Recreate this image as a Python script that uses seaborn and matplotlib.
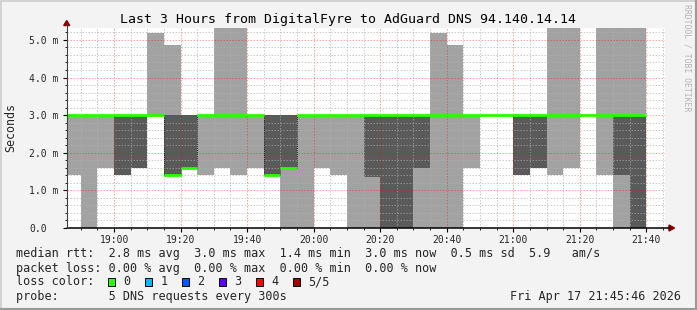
import numpy as np
import pandas as pd
import matplotlib
matplotlib.use("Agg")
import matplotlib.pyplot as plt
import seaborn as sns
from matplotlib.ticker import FuncFormatter, MultipleLocator
from matplotlib.patches import Rectangle, Polygon
from matplotlib.lines import Line2D

# ---------------- data ----------------
title = "Last 3 Hours from DigitalFyre to AdGuard DNS 94.140.14.14"
first_start_min = 18 * 60 + 45          # first 5-minute interval starts 18:45
step_min = 5
view_start_min = 18 * 60 + 45 + 46 / 60  # 18:45:46
view_end_min = 21 * 60 + 45 + 46 / 60    # 21:45:46

# five sorted ping RTTs (ms) per 5-minute interval
p1 = [1.4, 0.0, 1.6, 1.4, 1.6, 3.0, 1.4, 1.6, 1.4, 1.6, 1.4, 1.6, 1.4, 0.0, 0.0, 1.6, 1.4, 0.0,
      0.0, 0.0, 0.0, 0.0, 0.0, 0.0, 1.6, 3.0, 3.0, 1.4, 1.6, 1.4, 1.6, 3.0, 1.4, 0.0, 0.0]
p2 = [3.0, 3.0, 3.0, 1.4, 1.6, 3.0, 1.4, 1.6, 3.0, 3.0, 3.0, 3.0, 1.4, 1.6, 3.0, 3.0, 3.0, 3.0,
      1.36, 0.0, 0.0, 1.6, 3.0, 3.0, 3.0, 3.0, 3.0, 1.4, 1.6, 3.0, 3.0, 3.0, 3.0, 1.4, 0.0]
p3 = [3.0, 3.0, 3.0, 3.0, 3.0, 3.0, 1.4, 1.6, 3.0, 3.0, 3.0, 3.0, 1.4, 1.6, 3.0, 3.0, 3.0, 3.0,
      3.0, 3.0, 3.0, 3.0, 3.0, 3.0, 3.0, 3.0, 3.0, 3.0, 3.0, 3.0, 3.0, 3.0, 3.0, 3.0, 3.0]
p4 = [3.0] * 35
p5 = [3.0, 3.0, 3.0, 3.0, 3.0, 5.18, 4.86, 3.0, 3.0, 5.35, 5.35, 3.0, 3.0, 3.0, 3.0, 3.0, 3.0, 3.0,
      3.0, 3.0, 3.0, 3.0, 5.18, 4.86, 3.0, 3.0, 3.0, 3.0, 3.0, 5.35, 5.35, 3.0, 5.35, 5.35, 5.35]

x_major_ticks = [19 * 60 + 20 * i for i in range(9)]   # 19:00 ... 21:40
y_major_ticks = [0, 1, 2, 3, 4, 5]
y_max = 5.33

rtt_stats = ["2.8 ms avg", "3.0 ms max", "1.4 ms min", "3.0 ms now", "0.5 ms sd", "5.9   am/s"]
loss_stats = ["0.00 % avg", "0.00 % max", "0.00 % min", "0.00 % now"]
loss_labels = ["0", "1", "2", "3", "4", "5/5"]
loss_colors = ["#26ff00", "#00b8ff", "#0059ff", "#5e00ff", "#ff0000", "#a00000"]
probe_text = "5 DNS requests every 300s"
stamp_text = "Fri Apr 17 21:45:46 2026"

# ---------------- styling ----------------
sns.set_theme(style="white")
plt.rcParams["font.family"] = ["DejaVu Sans Mono", "DejaVu Sans"]

W, H = 697, 310
LIGHT = "#a2a2a2"
DARK = "#5a5a5a"
MEDIAN = "#26ff00"


def fx(x):
    return x / W


def fy(y):
    return 1 - y / H


fig = plt.figure(figsize=(W / 100, H / 100), dpi=100, facecolor="#f3f3f3")
ax_l, ax_r, ax_t, ax_b = 66.7, 665.5, 27.5, 228.0
ax = fig.add_axes([fx(ax_l), fy(ax_b), (ax_r - ax_l) / W, (ax_b - ax_t) / H])
ax.set_facecolor("white")

n = len(p1)
t_edges = first_start_min + step_min * np.arange(n + 1)


def ext(a):
    return list(a) + [a[-1]]


ax.fill_between(t_edges, ext(p1), ext(p2), step="post", color=LIGHT, lw=0, zorder=1)
ax.fill_between(t_edges, ext(p2), ext(p4), step="post", color=DARK, lw=0, zorder=1)
ax.fill_between(t_edges, ext(p4), ext(p5), step="post", color=LIGHT, lw=0, zorder=1)

# median: horizontal segments only, one per interval
seg_df = pd.DataFrame({
    "time": np.ravel(np.column_stack([t_edges[:-1], t_edges[1:]])),
    "rtt": np.repeat(p3, 2),
    "seg": np.repeat(np.arange(n), 2),
})
sns.lineplot(data=seg_df, x="time", y="rtt", units="seg", estimator=None,
             color=MEDIAN, lw=2, ax=ax, legend=False, zorder=4,
             solid_capstyle="butt")

# thin dotted verticals where the median steps
p3a = np.array(p3)
chg = np.where(np.diff(p3a) != 0)[0] + 1
ax.vlines(t_edges[chg], np.minimum(p3a[chg], p3a[chg - 1]), np.maximum(p3a[chg], p3a[chg - 1]),
          colors="#202020", lw=0.7, linestyles=(0, (1, 1)), zorder=3)

ax.set_xlim(view_start_min, view_end_min)
ax.set_ylim(0, y_max)
ax.set_xlabel("")
ax.set_ylabel("")

ax.xaxis.set_major_locator(plt.FixedLocator(x_major_ticks))
ax.xaxis.set_minor_locator(MultipleLocator(5))
ax.yaxis.set_major_locator(plt.FixedLocator(y_major_ticks))
ax.yaxis.set_minor_locator(MultipleLocator(0.2))
ax.xaxis.set_major_formatter(FuncFormatter(lambda v, p: f"{int(v) // 60:02d}:{int(v) % 60:02d}"))
ax.yaxis.set_major_formatter(FuncFormatter(lambda v, p: "0.0" if v == 0 else f"{v:.1f} m"))

ax.set_axisbelow(False)
dot = (0, (1.5, 1.5))
ax.grid(which="minor", axis="both", color="#b0b0b0", alpha=0.6, lw=0.72, linestyle=dot)
ax.grid(which="major", axis="both", color="#ff0000", alpha=0.35, lw=0.72, linestyle=dot)

ax.tick_params(axis="x", which="major", length=3, width=0.8, color="black",
               labelsize=7, pad=2, direction="out", bottom=True)
ax.tick_params(axis="x", which="minor", length=1.5, width=0.6, color="black",
               direction="out", bottom=True)
ax.tick_params(axis="y", which="major", length=3, width=0.8, color="black",
               labelsize=7, pad=23.8, direction="out", left=True)
ax.tick_params(axis="y", which="minor", length=1.5, width=0.6, color="black",
               direction="out", left=True)
for lab in ax.get_yticklabels():
    lab.set_horizontalalignment("left")

for s in ["top", "right", "left", "bottom"]:
    ax.spines[s].set_visible(False)

# axes lines with arrows
fig.add_artist(Line2D([fx(ax_l), fx(670)], [fy(ax_b), fy(ax_b)], color="black", lw=1.1))
fig.add_artist(Line2D([fx(ax_l), fx(ax_l)], [fy(ax_b), fy(24)], color="#404040", lw=0.8))
fig.add_artist(Polygon([(fx(669), fy(225)), (fx(669), fy(231)), (fx(674.5), fy(228))],
                       closed=True, color="#8b0000", transform=fig.transFigure))
fig.add_artist(Polygon([(fx(63.7), fy(25.5)), (fx(69.7), fy(25.5)), (fx(66.7), fy(20.5))],
                       closed=True, color="#8b0000", transform=fig.transFigure))

# titles
fig.text(fx(348.5), fy(19), title, ha="center", va="center", fontsize=9.5, color="black")
fig.text(fx(11), fy(127.5), "Seconds", ha="center", va="center", rotation=90, fontsize=8.4)
fig.text(fx(687), fy(4), "RRDTOOL / TOBI OETIKER", ha="center", va="top", rotation=270,
         fontsize=5.9, color="#b4b4b4")

# legend lines
LX = 16.4
FS = 8.5
fig.text(fx(LX), fy(254), "median rtt:  " + "  ".join(rtt_stats), ha="left", va="center", fontsize=FS)
fig.text(fx(LX), fy(268.3), "packet loss: " + "  ".join(loss_stats), ha="left", va="center", fontsize=FS)
fig.text(fx(LX), fy(281.7), "loss color:", ha="left", va="center", fontsize=FS)
for i, (lab, col) in enumerate(zip(loss_labels, loss_colors)):
    x0 = 108.3 + 37 * i
    fig.add_artist(Rectangle((fx(x0), fy(285.5)), 7 / W, 7.5 / H, transform=fig.transFigure,
                             facecolor=col, edgecolor="black", lw=0.7))
    fig.text(fx(x0 + 15), fy(281.7), lab, ha="left", va="center", fontsize=FS)
fig.text(fx(LX), fy(296.7), "probe:       " + probe_text, ha="left", va="center", fontsize=FS)
fig.text(fx(680.5), fy(296.7), stamp_text, ha="right", va="center", fontsize=FS)

# canvas bevel border
fig.add_artist(Line2D([0, 1], [fy(0.5), fy(0.5)], color="#d2d2d2", lw=1.4))
fig.add_artist(Line2D([fx(0.5), fx(0.5)], [0, 1], color="#d2d2d2", lw=1.4))
fig.add_artist(Line2D([0, 1], [fy(H - 1), fy(H - 1)], color="#9a9a9a", lw=1.5))
fig.add_artist(Line2D([fx(W - 1), fx(W - 1)], [0, 1], color="#9a9a9a", lw=1.5))

fig.savefig("out.png", dpi=100, facecolor=fig.get_facecolor())
